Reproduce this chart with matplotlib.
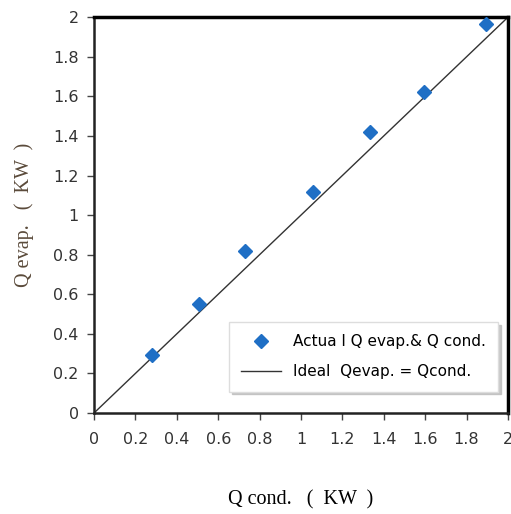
import matplotlib
matplotlib.use("Agg")
import matplotlib.pyplot as plt
import numpy as np

q_cond = [0.28, 0.507, 0.73, 1.058, 1.333, 1.594, 1.894]
q_evap = [0.293, 0.55, 0.82, 1.116, 1.42, 1.62, 1.965]
ideal = [0, 2]
ticks = [0, 0.2, 0.4, 0.6, 0.8, 1, 1.2, 1.4, 1.6, 1.8, 2]
tick_labels = ["0", "0.2", "0.4", "0.6", "0.8", "1", "1.2", "1.4", "1.6", "1.8", "2"]

fig = plt.figure(figsize=(5.11, 5.14), dpi=100)
ax = fig.add_axes([0.184, 0.1965, 0.810, 0.770])

ax.plot(ideal, ideal, color="#333333", lw=1.0, label="Ideal  Qevap. = Qcond.", zorder=2)
ax.plot(q_cond, q_evap, linestyle="none", marker="D", markersize=7.5,
        color="#1F6FC5", label="Actua l Q evap.& Q cond.", zorder=3)

ax.set_xlim(0, 2)
ax.set_ylim(0, 2)
ax.set_xticks(ticks)
ax.set_xticklabels(tick_labels)
ax.set_yticks(ticks)
ax.set_yticklabels(tick_labels)
ax.tick_params(direction="out", length=5, width=1, colors="#444444", labelsize=11.5,
               labelcolor="#333333", pad=6)
ax.tick_params(axis="x", pad=9)

for s in ["top", "right"]:
    ax.spines[s].set_linewidth(2.5)
    ax.spines[s].set_color("black")
for s in ["left", "bottom"]:
    ax.spines[s].set_linewidth(1.8)
    ax.spines[s].set_color("#222222")

ax.set_xlabel("Q cond.   (  KW  )", family="Liberation Serif", fontsize=14.5, labelpad=31)
ax.set_ylabel("Q evap.   (  KW  )", family="Liberation Serif", fontsize=14.5, labelpad=14,
              color="#5a4a3a")

handles, labels = ax.get_legend_handles_labels()
leg = ax.legend(handles[::-1], labels[::-1], loc="lower right",
                bbox_to_anchor=(0.995, 0.035), fontsize=11, frameon=True,
                fancybox=False, shadow={"color": "#bbbbbb", "alpha": 0.8},
                edgecolor="#dddddd",
                handlelength=2.6, borderpad=0.8, labelspacing=1.0)

fig.savefig("out.png", dpi=100)
